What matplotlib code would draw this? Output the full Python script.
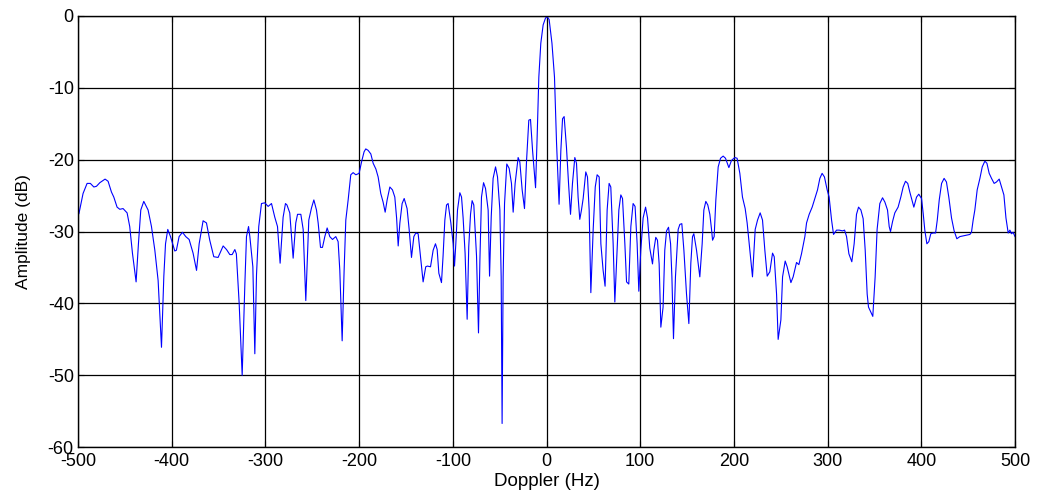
import matplotlib
matplotlib.use("Agg")
import matplotlib.pyplot as plt

plt.rcParams['font.family'] = ['Liberation Sans', 'DejaVu Sans']
plt.rcParams['axes.unicode_minus'] = False

# --- datos (Doppler en Hz, amplitud en dB) ---
doppler_hz = [
    -499.0, -494.6, -490.3, -486.8, -483.1, -480.3, -476.7, -471.1, -467.9, -464.3,
    -461.8, -458.3, -455.4, -451.9, -447.6, -444.8, -441.9, -438.0, -435.5, -433.0,
    -429.8, -425.2, -421.6, -418.0, -414.5, -410.9, -408.4, -406.6, -404.2, -401.3,
    -396.7, -395.0, -392.1, -388.5, -385.0, -381.4, -377.2, -373.5, -370.7, -366.5,
    -362.9, -359.4, -355.1, -350.5, -345.1, -341.5, -338.0, -335.5, -332.6, -331.0,
    -328.0, -324.8, -321.9, -320.2, -318.0, -316.6, -313.4, -311.3, -309.5, -307.1,
    -304.2, -300.7, -297.1, -293.5, -290.0, -287.1, -284.3, -281.1, -278.6, -277.0,
    -274.0, -270.4, -267.6, -265.7, -262.2, -259.7, -256.9, -253.7, -250.8, -248.3,
    -245.5, -243.7, -241.2, -239.1, -236.6, -234.1, -231.3, -228.4, -224.9, -222.4,
    -220.6, -218.1, -216.0, -214.2, -211.7, -208.9, -206.4, -203.5, -200.0, -197.4,
    -194.7, -192.9, -190.4, -187.5, -185.0, -182.1, -179.7, -176.9, -174.4, -172.2,
    -170.1, -167.2, -164.4, -161.9, -160.0, -158.3, -156.5, -154.1, -151.9, -148.8,
    -146.6, -144.1, -141.6, -139.5, -137.0, -134.5, -131.7, -128.9, -127.1, -123.8,
    -121.0, -118.5, -116.7, -114.9, -112.1, -110.4, -108.5, -106.7, -105.0, -102.1,
    -99.6, -98.2, -96.8, -95.0, -92.5, -90.7, -89.0, -86.9, -84.7, -83.0,
    -81.1, -79.4, -77.6, -74.7, -72.6, -71.1, -69.4, -67.2, -65.1, -62.3,
    -60.8, -59.0, -57.0, -54.4, -52.3, -49.8, -48.4, -47.4, -46.3, -44.8,
    -42.4, -39.9, -37.4, -35.6, -33.5, -30.3, -28.5, -26.0, -23.5, -21.3,
    -18.9, -17.1, -14.9, -11.7, -10.0, -8.2, -6.1, -3.6, -1.1, 0.6,
    2.8, 5.8, 8.5, 10.7, 13.4, 15.3, 17.1, 18.8, 21.3, 23.5,
    25.6, 27.7, 30.2, 32.0, 33.7, 35.5, 37.3, 39.1, 41.9, 43.7,
    45.5, 47.3, 49.8, 52.0, 54.0, 56.2, 58.0, 60.4, 62.5, 64.7,
    66.8, 68.6, 71.1, 72.9, 74.7, 77.2, 79.3, 81.1, 83.6, 85.4,
    87.8, 90.0, 92.4, 94.5, 96.7, 98.5, 100.6, 103.1, 105.7, 107.8,
    110.2, 113.1, 114.5, 116.6, 118.4, 120.2, 122.0, 124.4, 126.2, 128.1,
    130.2, 132.4, 133.8, 135.5, 137.6, 140.5, 142.3, 144.4, 146.6, 149.4,
    151.9, 154.0, 155.8, 157.2, 160.1, 163.6, 166.1, 167.9, 170.0, 172.1,
    174.3, 176.1, 177.2, 178.9, 180.7, 183.2, 185.7, 188.5, 191.0, 194.6,
    197.4, 200.9, 203.4, 206.3, 209.1, 212.0, 214.1, 217.0, 219.8, 222.7,
    225.2, 228.0, 230.5, 233.0, 235.5, 238.3, 241.2, 243.0, 245.5, 247.2,
    250.1, 251.9, 254.7, 256.8, 260.8, 263.2, 266.8, 269.3, 272.1, 275.7,
    277.5, 280.3, 283.5, 286.3, 289.2, 291.7, 294.1, 296.6, 299.5, 301.6,
    304.2, 306.3, 309.5, 312.3, 315.9, 318.1, 320.2, 322.7, 325.8, 328.3,
    330.8, 333.0, 335.5, 337.9, 340.1, 342.2, 343.6, 346.1, 348.2, 350.7,
    352.8, 355.7, 358.6, 361.1, 363.9, 365.7, 367.1, 369.3, 371.7, 375.2,
    378.1, 380.6, 383.1, 385.5, 387.7, 389.5, 392.0, 394.9, 397.3, 400.2,
    402.0, 403.7, 405.9, 408.0, 410.1, 412.6, 415.2, 417.0, 419.1, 421.6,
    424.3, 426.8, 429.3, 432.2, 435.0, 437.9, 441.1, 444.6, 448.2, 451.8,
    453.5, 455.3, 457.1, 459.6, 462.5, 465.0, 467.8, 470.0, 472.4, 474.9,
    477.7, 480.2, 483.1, 485.6, 488.1, 490.3, 492.7, 494.5, 496.2, 497.9,
    500.0,
]

amplitude_db = [
    -27.5, -24.7, -23.3, -23.3, -23.8, -23.7, -23.2, -22.7, -23.0, -24.5,
    -25.2, -26.6, -26.9, -26.8, -27.4, -29.3, -33.0, -37.0, -31.7, -27.0,
    -25.8, -27.0, -29.3, -32.6, -36.8, -46.1, -36.2, -31.7, -29.7, -30.7,
    -32.7, -32.6, -30.7, -30.1, -30.7, -31.1, -33.0, -35.4, -31.7, -28.5,
    -28.8, -31.2, -33.5, -33.6, -32.0, -32.5, -33.2, -33.2, -32.5, -33.1,
    -40.0, -50.0, -37.2, -30.7, -29.3, -30.7, -34.9, -47.0, -36.0, -29.3,
    -26.1, -26.0, -26.5, -26.1, -28.0, -29.3, -34.4, -28.0, -26.1, -26.3,
    -27.4, -33.7, -28.8, -27.6, -27.6, -29.7, -39.6, -28.4, -26.7, -25.6,
    -27.0, -28.8, -32.2, -32.2, -30.7, -29.5, -30.7, -31.1, -30.7, -31.4,
    -35.4, -45.2, -35.4, -28.4, -25.6, -22.1, -21.8, -22.1, -21.9, -20.3,
    -18.9, -18.5, -18.7, -19.2, -20.5, -21.3, -22.4, -24.7, -25.9, -27.3,
    -25.6, -23.8, -24.2, -25.2, -28.1, -32.0, -28.8, -26.1, -25.4, -26.8,
    -29.7, -33.6, -30.7, -30.2, -30.3, -33.5, -37.0, -34.9, -34.8, -34.9,
    -32.6, -31.7, -32.5, -35.8, -37.1, -33.4, -28.4, -26.3, -26.1, -28.8,
    -31.7, -34.8, -31.7, -27.0, -24.6, -25.2, -28.1, -33.0, -42.2, -32.1,
    -27.6, -25.7, -26.3, -33.4, -44.1, -34.0, -25.2, -23.2, -24.0, -27.0,
    -36.2, -27.9, -22.6, -21.0, -22.4, -27.0, -36.3, -56.7, -36.3, -26.1,
    -20.6, -21.2, -23.3, -27.3, -23.3, -19.7, -20.3, -24.2, -26.8, -20.1,
    -14.5, -14.4, -18.7, -23.9, -16.8, -8.5, -3.8, -1.25, -0.3, -0.1,
    -0.5, -3.8, -8.5, -17.7, -26.2, -18.7, -14.3, -14.0, -18.3, -23.3,
    -27.6, -23.3, -19.7, -20.5, -25.2, -28.3, -27.0, -25.4, -21.7, -22.4,
    -27.0, -38.5, -29.7, -23.8, -22.1, -22.4, -31.7, -35.4, -37.6, -27.0,
    -23.3, -23.8, -31.7, -39.8, -34.4, -27.0, -24.9, -25.4, -31.7, -37.0,
    -37.3, -29.3, -26.1, -26.5, -31.7, -38.3, -32.6, -28.1, -26.6, -28.1,
    -32.3, -34.5, -32.6, -30.8, -31.2, -34.5, -43.3, -40.5, -32.6, -29.9,
    -29.4, -31.7, -36.3, -44.9, -36.3, -29.7, -29.0, -28.9, -32.6, -38.7,
    -42.8, -34.4, -30.7, -30.3, -32.6, -36.3, -31.7, -27.0, -25.8, -26.3,
    -27.6, -29.7, -31.2, -30.7, -25.6, -21.0, -19.8, -19.5, -19.8, -21.1,
    -20.1, -19.7, -19.8, -21.9, -25.2, -26.8, -28.8, -32.6, -36.3, -29.7,
    -28.4, -27.4, -28.4, -32.6, -36.2, -35.6, -33.0, -33.5, -38.7, -45.0,
    -42.3, -36.3, -34.1, -34.9, -37.1, -36.3, -34.3, -34.6, -33.1, -30.7,
    -28.8, -27.6, -26.6, -25.4, -24.2, -22.6, -21.9, -22.4, -24.2, -25.2,
    -28.4, -30.4, -29.8, -29.8, -29.9, -29.8, -30.7, -33.1, -34.2, -31.7,
    -27.6, -26.6, -27.0, -28.2, -32.6, -38.7, -40.5, -41.2, -41.8, -36.3,
    -29.7, -26.1, -25.3, -25.9, -27.0, -29.3, -30.0, -28.6, -27.4, -26.6,
    -25.2, -23.8, -23.0, -23.3, -24.5, -25.4, -26.6, -25.2, -24.8, -25.4,
    -27.5, -29.8, -31.7, -31.4, -30.3, -30.2, -30.2, -28.4, -25.6, -23.3,
    -22.6, -23.1, -25.2, -28.1, -29.9, -31.0, -30.7, -30.6, -30.5, -30.4,
    -30.1, -28.4, -27.0, -24.2, -22.6, -21.0, -20.2, -20.5, -21.9, -22.6,
    -23.3, -23.1, -22.7, -23.8, -24.9, -28.1, -30.2, -29.8, -30.3, -30.1,
    -30.7,
]

x_ticks = [-500, -400, -300, -200, -100, 0, 100, 200, 300, 400, 500]
y_ticks = [0, -10, -20, -30, -40, -50, -60]

fig = plt.figure(figsize=(10.4, 4.98), dpi=100)
ax = fig.add_axes([0.075, 0.102, 0.901, 0.866])

ax.plot(doppler_hz, amplitude_db, color='#0000ff', linewidth=0.8)

ax.set_xlim(-500, 500)
ax.set_ylim(-60, 0)
ax.set_xticks(x_ticks)
ax.set_yticks(y_ticks)
ax.grid(True, color='black', linestyle='-', linewidth=0.9)
ax.set_axisbelow(True)

ax.tick_params(axis='both', direction='in', length=4, width=0.8,
               labelsize=13, top=True, right=True)
ax.tick_params(axis='x', pad=4)
ax.tick_params(axis='y', pad=3)
for s in ax.spines.values():
    s.set_linewidth(1.0)

ax.set_xlabel('Doppler (Hz)', fontsize=13.5, labelpad=2)
ax.set_ylabel('Amplitude (dB)', fontsize=12.5, labelpad=12)

fig.savefig('out.png', dpi=100)
